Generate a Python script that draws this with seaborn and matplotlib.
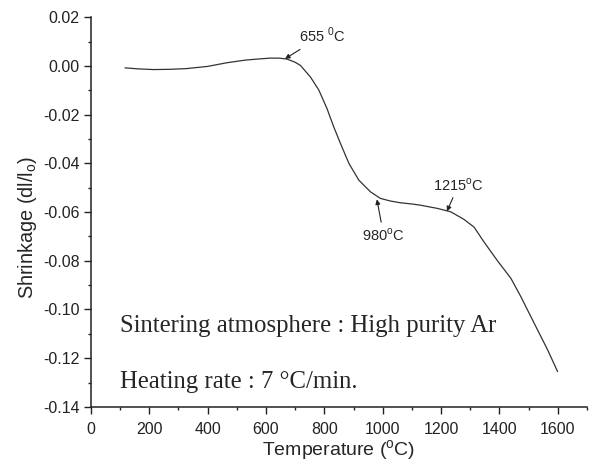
import numpy as np
import pandas as pd
import seaborn as sns
import matplotlib.pyplot as plt
from matplotlib.ticker import MultipleLocator

# datos
temperatura = [117, 160, 214, 270, 328, 400, 466, 530, 580, 615, 645, 672, 700,
               718, 752, 781, 809, 832, 855, 884, 918, 958, 992, 1027, 1061,
               1100, 1130, 1187, 1233, 1278, 1313, 1347, 1393, 1439, 1473,
               1519, 1565, 1599]
contraccion = [-0.0008, -0.0012, -0.0015, -0.0014, -0.0011, -0.0002, 0.0013,
               0.0024, 0.0029, 0.0032, 0.0032, 0.0028, 0.0015, 0.0002, -0.0045,
               -0.0099, -0.0175, -0.0250, -0.0318, -0.0400, -0.0469, -0.0517,
               -0.0544, -0.0555, -0.0562, -0.0567, -0.0572, -0.0585, -0.0599,
               -0.0630, -0.0662, -0.0723, -0.0800, -0.0872, -0.0947, -0.1057,
               -0.1166, -0.1255]

puntos_T = [665, 980, 1220]
puntos_v = [0.0029, -0.0548, -0.0597]
puntos_txt = ["655 $^{\\mathregular{0}}$C", "980$^{\\mathregular{o}}$C", "1215$^{\\mathregular{o}}$C"]
texto_pos = [(792, 0.0124), (1003, -0.0695), (1260, -0.0488)]

df = pd.DataFrame({"T": temperatura, "s": contraccion})

sns.set_style("ticks")
plt.rcParams["font.family"] = ["Liberation Sans", "DejaVu Sans"]

fig = plt.figure(figsize=(5.9, 4.65), dpi=100)
ax = fig.add_axes([0.154, 0.125, 0.841, 0.838])

sns.lineplot(data=df, x="T", y="s", color="#333333", lw=0.9, ax=ax)

ax.set_xlim(0, 1700)
ax.set_ylim(-0.14, 0.02)
ax.xaxis.set_major_locator(MultipleLocator(200))
ax.xaxis.set_minor_locator(MultipleLocator(100))
ax.yaxis.set_major_locator(MultipleLocator(0.02))
ax.yaxis.set_minor_locator(MultipleLocator(0.01))
ax.set_xticks(np.arange(0, 1601, 200))
ax.yaxis.set_major_formatter(plt.FuncFormatter(lambda v, p: f"{v:.2f}"))

ax.tick_params(which="major", length=5, width=1, labelsize=11.5, colors="#222222")
ax.tick_params(axis="x", which="major", pad=6)
ax.tick_params(axis="y", which="major", pad=3)
ax.tick_params(which="minor", length=2.5, width=1, colors="#222222")
sns.despine(ax=ax)
for s in ["left", "bottom"]:
    ax.spines[s].set_linewidth(1.1)
    ax.spines[s].set_color("#222222")

ax.set_xlabel("Temperature ($^{\\mathregular{o}}$C)", fontsize=14, labelpad=0.5)
ax.set_ylabel("Shrinkage (dl/l$_{\\mathregular{o}}$)", fontsize=14.3)
ax.yaxis.set_label_coords(-0.105, 0.46)

for t, v, txt, pos in zip(puntos_T, puntos_v, puntos_txt, texto_pos):
    ax.annotate(txt, xy=(t, v), xytext=pos, ha="center", va="center", fontsize=10.5,
                arrowprops=dict(arrowstyle="-|>", color="#222222", lw=0.8,
                                mutation_scale=7, shrinkA=1, shrinkB=0))

ax.text(100, -0.1068, "Sintering atmosphere : High purity Ar", fontsize=17.8,
        family="Liberation Serif", va="center", ha="left")
ax.text(100, -0.1298, "Heating rate : 7 \u00b0C/min.", fontsize=17.8,
        family="Liberation Serif", va="center", ha="left")

fig.savefig("out.png", dpi=100)
